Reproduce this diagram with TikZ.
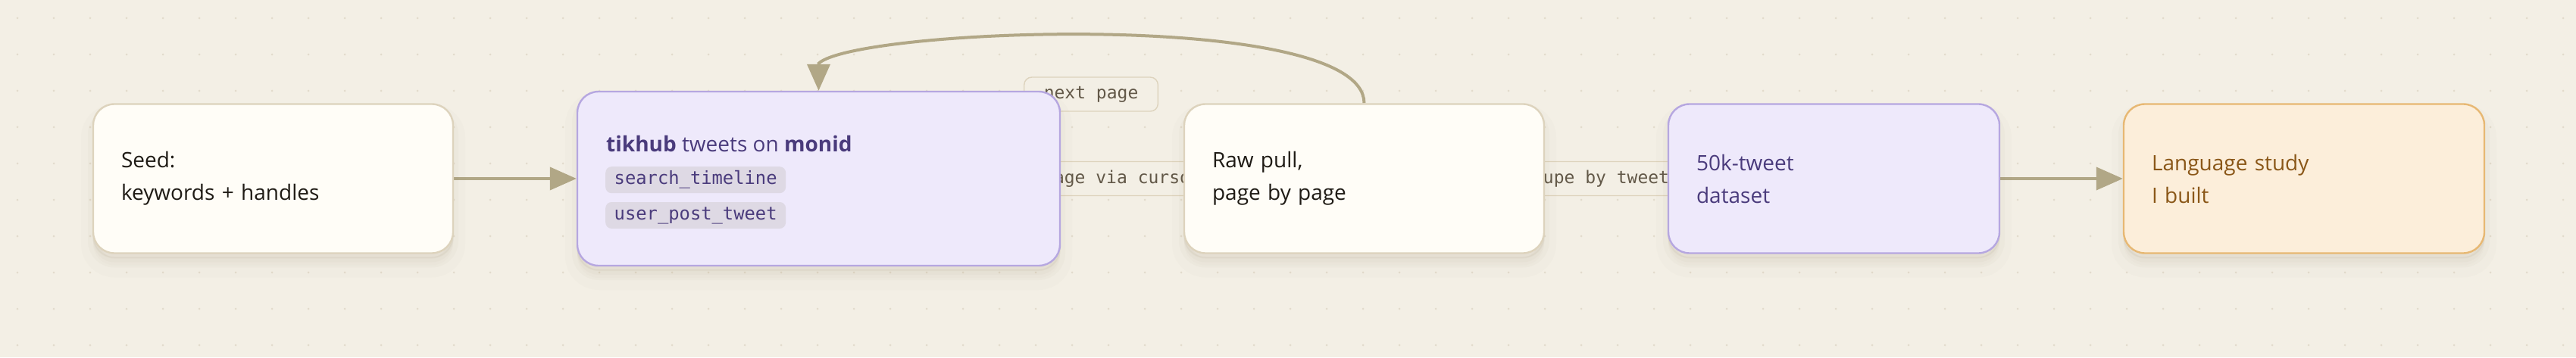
\documentclass[tikz,border=0pt]{standalone}
\usepackage{fontspec}
\setmainfont{Open Sans}
\setmonofont{DejaVu Sans Mono}
\usetikzlibrary{positioning}
\usetikzlibrary{arrows.meta}
\definecolor{paper}{HTML}{F3EFE5}
\definecolor{dotc}{HTML}{E2DBCC}
\definecolor{shadowc}{HTML}{8A7A55}
\definecolor{creamfill}{HTML}{FFFDF7}
\definecolor{creamline}{HTML}{DDD3BD}
\definecolor{lilacfill}{HTML}{EEE9FB}
\definecolor{lilacline}{HTML}{B6A7E0}
\definecolor{lilacink}{HTML}{4A3B7C}
\definecolor{chipfill}{HTML}{DED9E4}
\definecolor{peachfill}{HTML}{FCEEDA}
\definecolor{peachline}{HTML}{E7B873}
\definecolor{peachink}{HTML}{8A5718}
\definecolor{inkdark}{HTML}{1F1B15}
\definecolor{arrowc}{HTML}{B1A786}
\definecolor{labelink}{HTML}{625848}
\pgfdeclarelayer{back}
\pgfdeclarelayer{links}
\pgfsetlayers{back,links,main}
\tikzset{
  softshadow/.style={
    preaction={draw=shadowc, fill=shadowc, line width=16pt, opacity=0.02, transform canvas={yshift=-8pt}},
    preaction={draw=shadowc, fill=shadowc, line width=7pt, opacity=0.03, transform canvas={yshift=-6pt}},
    preaction={draw=shadowc, fill=shadowc, line width=1pt, opacity=0.05, transform canvas={yshift=-3pt}}},
  box/.style={draw, line width=1.2pt, rounded corners=14pt, align=left,
    inner xsep=18.5pt, inner ysep=0pt, minimum height=98.5pt,
    font=\fontsize{14}{21.5}\selectfont, softshadow},
  plainbox/.style={box, fill=creamfill, draw=creamline, text=inkdark},
  lilacbox/.style={box, fill=lilacfill, draw=lilacline, text=lilacink},
  peachbox/.style={box, fill=peachfill, draw=peachline, text=peachink},
  chip/.style={fill=chipfill, rounded corners=4pt, inner xsep=5.75pt, inner ysep=0pt,
    minimum height=17.5pt, text=lilacink, font=\ttfamily\fontsize{11.9}{14}\selectfont},
  flow/.style={-{Triangle[length=17.5pt, width=15pt]}, draw=arrowc, line width=2pt},
  edgelabel/.style={draw=creamline, fill=paper, line width=0.7pt, rounded corners=5pt,
    text=labelink, font=\ttfamily\fontsize{11.5}{14}\selectfont,
    inner xsep=13pt, inner ysep=0pt, minimum height=22.5pt},
}
\begin{document}
\begin{tikzpicture}
        \useasboundingbox (0,0) rectangle (1700pt,236pt);
        % paper and dot grid %
        \begin{pgfonlayer}{back}
        \fill[paper] (0,0) rectangle (1700pt,236pt);
        \foreach \col in {0,...,70}
          \foreach \row in {0,...,9}
            \fill[dotc] ({11.5pt+24pt*\col},{224pt-24pt*\row}) circle (0.75pt);
        \end{pgfonlayer}

        % nodes %
        \node[plainbox, text width=200.5pt] (seed) at (180.25pt,118pt) {Seed:\\keywords + handles};
        \node[lilacbox, text width=281.5pt, minimum height=115pt, right=80.8pt of seed] (tikhub) {};
        \node[anchor=base west, inner sep=0pt, text=lilacink, font=\fontsize{14}{21.5}\selectfont] (tiktitle)
          at ([xshift=19.5pt, yshift=-40.5pt]tikhub.north west) {\textbf{tikhub} tweets on \textbf{monid}};
        \node[chip, anchor=north west] (searchchip) at ([xshift=19pt, yshift=-50pt]tikhub.north west) {search\_timeline};
        \node[chip, below=5.5pt of searchchip.south west, anchor=north west] (userchip) {user\_post\_tweet};
        \node[plainbox, text width=200.5pt, right=80.8pt of tikhub] (raw) {Raw pull,\\page by page};
        \node[lilacbox, text width=181.5pt, right=80.8pt of raw] (dataset) {50k-tweet\\dataset};
        \node[peachbox, text width=201pt, right=80.8pt of dataset] (study) {Language study\\I built};

        % edges %
        \begin{pgfonlayer}{links}
        \draw[flow] (seed) -- (tikhub);
        \draw[flow] (tikhub) -- node[edgelabel] {page via cursor} (raw);
        \draw[flow] (raw.north) .. controls +(0,62.5pt) and +(25pt,23.5pt) .. ([yshift=18pt]tikhub.north)
          node[edgelabel, pos=0.5, xshift=-9.6pt, yshift=-39.5pt] {next page} -- (tikhub.north);
        \draw[flow] (raw) -- node[edgelabel] {dedupe by tweet id} (dataset);
        \draw[flow] (dataset) -- (study);
        \end{pgfonlayer}
      \end{tikzpicture}
\end{document}
